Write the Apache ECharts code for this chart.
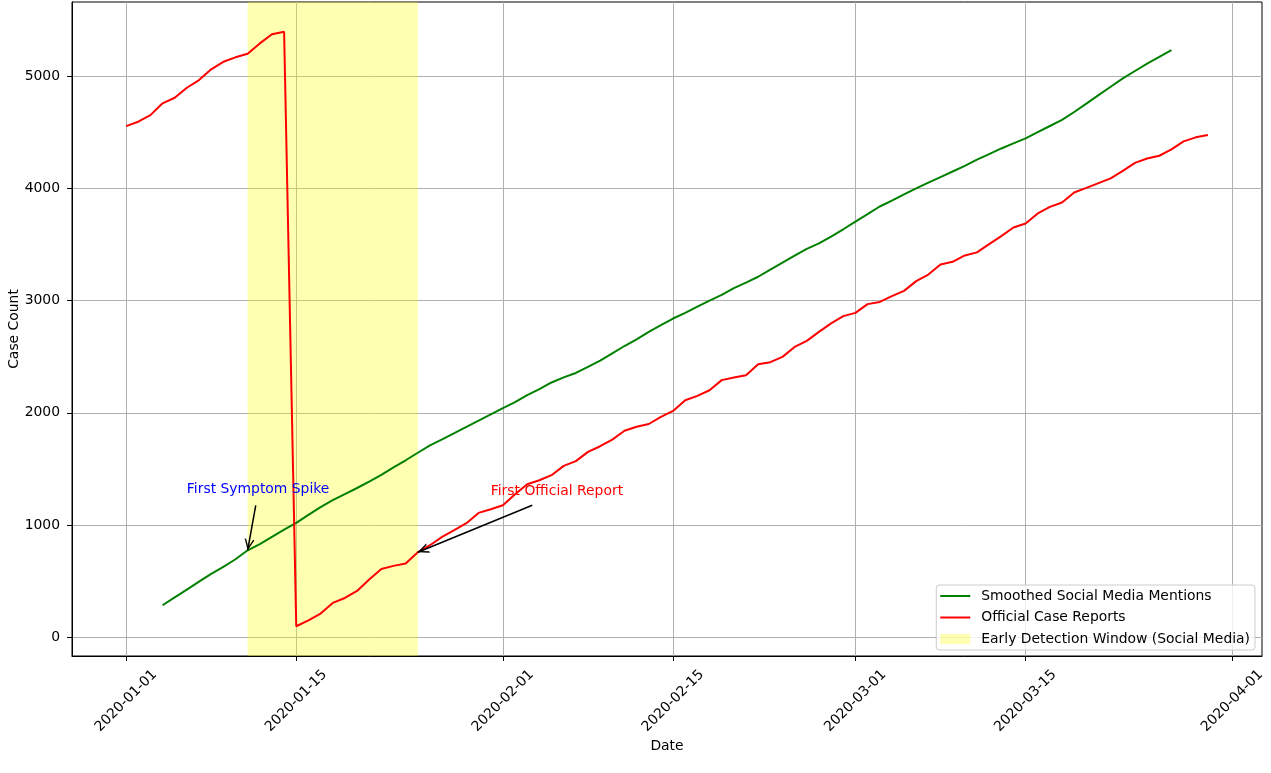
<!DOCTYPE html>
<html><head><meta charset="utf-8">
<script src="https://cdn.jsdelivr.net/npm/echarts@6/dist/echarts.min.js"></script>
<style>html,body{margin:0;padding:0;background:#fff}#c{width:1271px;height:773px}</style>
</head><body><div id="c"></div>
<script>
// ---------- data ----------
const startDate = '2020-01-01';
const dayCount = 90; // 2020-01-01 .. 2020-03-30

const officialCases = [
  4554,4593,4652,4757,4807,4896,4964,5060,5127,5167,5199,5291,5372,5395,
  98,150,211,306,350,413,514,609,636,657,758,820,894,954,1016,1108,1140,
  1176,1275,1364,1399,1444,1527,1569,1652,1702,1761,1840,1875,1900,1964,2017,
  2112,2151,2201,2291,2314,2335,2433,2451,2498,2587,2641,2721,2796,2861,
  2890,2968,2988,3039,3086,3173,3232,3322,3345,3402,3429,3503,3574,3651,3687,
  3776,3835,3874,3963,4004,4046,4088,4156,4227,4266,4290,4347,4418,4454,4474
];

const socialSmoothed = [
  null,null,null,
  285,355,425,495,565,628,695,775,830,895,960,1020,1090,1160,1222,1276,1330,
  1386,1446,1514,1577,1644,1710,1764,1819,1875,1930,1985,
  2041,2095,2157,2210,2270,2315,2355,2410,2465,2530,2595,2655,2720,2780,2840,
  2890,2945,3000,3050,3110,3160,3212,3275,3338,3400,3460,3510,3570,3635,
  3703,3770,3838,3890,3945,4000,4050,4100,4150,4200,4255,4305,4355,4400,4445,
  4500,4555,4610,4680,4755,4830,4905,4980,5045,5110,5170,5230,
  null,null,null
];

const xTickLabels = ['2020-01-01','2020-01-15','2020-02-01','2020-02-15','2020-03-01','2020-03-15','2020-04-01'];
const yTicks = [0,1000,2000,3000,4000,5000];

const windowStart = '2020-01-11';
const windowEnd = '2020-01-25';

const seriesNames = ['Smoothed Social Media Mentions','Official Case Reports','Early Detection Window (Social Media)'];

// annotations: text position, arrow start, arrow target (data space)
const symptomNote = { text:'First Symptom Spike', color:'#0000ff',
  textAt:['2020-01-06',1275], from:['2020-01-11T16:00',1176], to:['2020-01-11',775] };
const officialNote = { text:'First Official Report', color:'#ff0000',
  textAt:['2020-01-31',1258], from:['2020-02-03T10:00',1176], to:['2020-01-25',758] };

// ---------- helpers ----------
function ts(s){
  const [d,t] = s.split('T');
  const [y,m,dd] = d.split('-').map(Number);
  let h = 0, mi = 0;
  if (t) { [h,mi] = t.split(':').map(Number); }
  return new Date(y, m-1, dd, h, mi).getTime();
}
function pad(n){return n<10?'0'+n:''+n;}
function fmt(v){const d=new Date(v);return d.getFullYear()+'-'+pad(d.getMonth()+1)+'-'+pad(d.getDate());}

const [sy,sm,sd] = startDate.split('-').map(Number);
const dates = [];
for (let i=0;i<dayCount;i++) dates.push(new Date(sy,sm-1,sd+i).getTime());

const xFirst = dates[0], xLast = dates[dates.length-1];
const xSpan = xLast - xFirst;
const xMin = xFirst - 0.05*xSpan, xMax = xLast + 0.05*xSpan;

const allVals = officialCases.concat(socialSmoothed.filter(v=>v!=null));
const vMin = Math.min(...allVals), vMax = Math.max(...allVals);
const vSpan = vMax - vMin;
const yMin = vMin - 0.05*vSpan, yMax = vMax + 0.05*vSpan;

const FONT = 'DejaVu Sans';
const FS = 13.9;

// open arrow head whose tip sits at the symbol centre
const chevron = 'path://M5,-11 M5,0 L10,11 L8.5,11 L5,3.4 L1.5,11 L0,11 Z';
const lineIcon = 'path://M0,0 H30 V2 H0 Z';

function noteMarks(n){
  return {
    markLine: {
      silent:true, animation:false,
      symbol:['none', chevron], symbolSize:[10,22],
      lineStyle:{color:'#000', width:1.5, type:'solid'},
      label:{show:false},
      data:[[{coord:[ts(n.from[0]), n.from[1]]},{coord:[ts(n.to[0]), n.to[1]]}]]
    },
    markPoint: {
      silent:true, animation:false,
      symbol:'circle', symbolSize:0,
      label:{show:true, position:'right', distance:0, offset:[0,-5],
        formatter:n.text, color:n.color, fontSize:FS, fontFamily:FONT},
      data:[{coord:[ts(n.textAt[0]), n.textAt[1]]}]
    }
  };
}

const chart = echarts.init(document.getElementById('c'), null, {renderer:'canvas'});
chart.setOption({
  animation:false,
  backgroundColor:'#fff',
  textStyle:{fontFamily:FONT},
  grid:{left:72, right:9, top:2, bottom:117, containLabel:false, outerBoundsMode:'none',
    show:true, borderColor:'#000', borderWidth:1, backgroundColor:'transparent'},
  legend:{
    data:[
      {name:seriesNames[0], icon:lineIcon, itemStyle:{color:'#008000'}},
      {name:seriesNames[1], icon:lineIcon, itemStyle:{color:'#ff0000'}},
      {name:seriesNames[2], icon:'rect', itemStyle:{color:'rgba(255,255,0,0.3)'}}
    ],
    orient:'vertical', right:16, bottom:123,
    itemWidth:30, itemHeight:10, itemGap:7.5, symbolKeepAspect:true,
    padding:[4,5,4,4],
    backgroundColor:'rgba(255,255,255,0.8)', borderColor:'#cccccc', borderWidth:1, borderRadius:3,
    textStyle:{fontSize:FS, fontFamily:FONT, color:'#000', lineHeight:14, padding:[0,0,0,6]}
  },
  xAxis:{
    type:'value', min:xMin, max:xMax,
    axisLine:{show:true, onZero:false, lineStyle:{color:'#000', width:1}},
    axisTick:{show:true, length:5, customValues:xTickLabels.map(ts), lineStyle:{color:'#000'}},
    axisLabel:{customValues:xTickLabels.map(ts), formatter:v=>fmt(v), rotate:45, align:'center', verticalAlign:'middle',
      margin:45, fontSize:FS, fontFamily:FONT, color:'#000', hideOverlap:false},
    splitLine:{show:true, lineStyle:{color:'#b0b0b0', width:1}},
    name:'Date', nameLocation:'middle', nameGap:83, nameMoveOverlap:false,
    nameTextStyle:{fontSize:FS, fontFamily:FONT, color:'#000'}
  },
  yAxis:{
    type:'value', min:yMin, max:yMax,
    axisLine:{show:true, onZero:false, lineStyle:{color:'#000', width:1}},
    axisTick:{show:true, length:5, customValues:yTicks, lineStyle:{color:'#000'}},
    axisLabel:{customValues:yTicks, formatter:v=>String(v), margin:12, fontSize:FS, fontFamily:FONT, color:'#000'},
    splitLine:{show:true, lineStyle:{color:'#b0b0b0', width:1}},
    name:'Case Count', nameLocation:'middle', nameGap:51, nameMoveOverlap:false,
    nameTextStyle:{fontSize:FS, fontFamily:FONT, color:'#000'}
  },
  series:[
    Object.assign({
      name:seriesNames[0], type:'line', z:3,
      data:dates.map((d,i)=>[d, socialSmoothed[i]]),
      symbol:'none', showSymbol:false, connectNulls:false,
      itemStyle:{color:'#008000'}, lineStyle:{color:'#008000', width:2}
    }, noteMarks(symptomNote)),
    Object.assign({
      name:seriesNames[1], type:'line', z:3,
      data:dates.map((d,i)=>[d, officialCases[i]]),
      symbol:'none', showSymbol:false,
      itemStyle:{color:'#ff0000'}, lineStyle:{color:'#ff0000', width:2}
    }, noteMarks(officialNote)),
    {
      name:seriesNames[2], type:'line', z:1, data:[],
      itemStyle:{color:'rgba(255,255,0,0.3)'},
      markArea:{silent:true, itemStyle:{color:'rgba(255,255,0,0.3)'},
        data:[[{xAxis:ts(windowStart)},{xAxis:ts(windowEnd)}]]}
    }
  ]
});
</script></body></html>
